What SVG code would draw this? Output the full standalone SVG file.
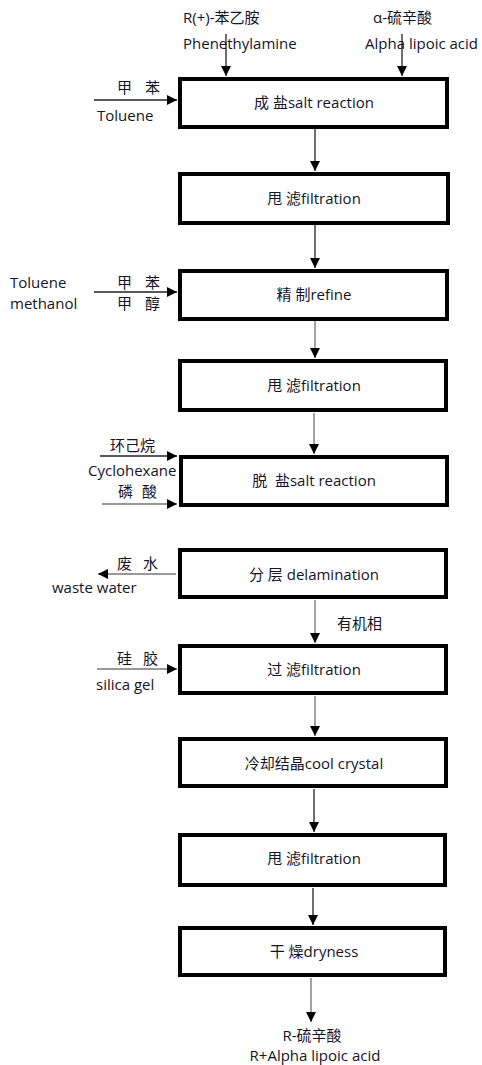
<svg xmlns="http://www.w3.org/2000/svg" width="482" height="1065" viewBox="0 0 482 1065">
<defs>
<marker id="ah" viewBox="0 0 10 10" refX="10" refY="5" markerWidth="10" markerHeight="10" markerUnits="userSpaceOnUse" orient="auto">
<path d="M0,0 L10,5 L0,10 z" fill="#000"/>
</marker>
</defs>
<style>
.box{fill:#fff;stroke:#000;stroke-width:4}
.t{font-family:"Open Sans","Noto Sans CJK SC",sans-serif;font-size:15px;fill:#14142a}
.c{text-anchor:middle}
.dk{stroke:#222;stroke-width:1.3;fill:none}
.gy{stroke:#999;stroke-width:1.8;fill:none}
</style>
<rect width="482" height="1065" fill="#fff"/>
<g id="connectors">
<line class="dk" x1="226" y1="34" x2="226" y2="76" marker-end="url(#ah)"/>
<line class="dk" x1="402" y1="34" x2="402" y2="76" marker-end="url(#ah)"/>
<line class="dk" x1="94" y1="100" x2="177" y2="100" marker-end="url(#ah)"/>
<line class="dk" x1="315" y1="129" x2="315" y2="171" marker-end="url(#ah)"/>
<line class="dk" x1="315" y1="225" x2="315" y2="268" marker-end="url(#ah)"/>
<line class="dk" x1="94" y1="292" x2="177" y2="292" marker-end="url(#ah)"/>
<line class="gy" x1="315" y1="321" x2="315" y2="358" marker-end="url(#ah)"/>
<line class="gy" x1="314" y1="413" x2="314" y2="454" marker-end="url(#ah)"/>
<line class="dk" x1="100" y1="456" x2="177" y2="456" marker-end="url(#ah)"/>
<line class="gy" x1="102" y1="504" x2="177" y2="504" marker-end="url(#ah)"/>
<line class="gy" x1="176" y1="574" x2="98" y2="574" marker-end="url(#ah)"/>
<line class="gy" x1="315" y1="600" x2="315" y2="643" marker-end="url(#ah)"/>
<line class="gy" x1="97" y1="669" x2="177" y2="669" marker-end="url(#ah)"/>
<line class="gy" x1="315" y1="696" x2="315" y2="736" marker-end="url(#ah)"/>
<line class="dk" x1="314" y1="789" x2="314" y2="832" marker-end="url(#ah)"/>
<line class="dk" x1="313" y1="888" x2="313" y2="925" marker-end="url(#ah)"/>
<line class="gy" x1="311" y1="978" x2="311" y2="1022" marker-end="url(#ah)"/>
</g>
<g id="inputs">
<text class="t" x="183" y="23">R(+)-苯乙胺</text>
<text class="t" x="183" y="49">Phenethylamine</text>
<text class="t" x="373" y="23">α-硫辛酸</text>
<text class="t" x="365" y="49">Alpha lipoic acid</text>
<text class="t" x="117" y="93">甲<tspan x="145">苯</tspan></text>
<text class="t" x="97" y="121">Toluene</text>
<text class="t" x="10" y="288">Toluene</text>
<text class="t" x="10" y="309">methanol</text>
<text class="t" x="117" y="288">甲<tspan x="145">苯</tspan></text>
<text class="t" x="117" y="309">甲<tspan x="145">醇</tspan></text>
<text class="t" x="110" y="451">环己烷</text>
<text class="t" x="88" y="476">Cyclohexane</text>
<text class="t" x="118" y="497">磷<tspan x="142">酸</tspan></text>
<text class="t" x="117" y="569">废<tspan x="143">水</tspan></text>
<text class="t" x="52" y="593">waste water</text>
<text class="t" x="337" y="629">有机相</text>
<text class="t" x="117" y="664">硅<tspan x="143">胶</tspan></text>
<text class="t" x="96" y="690">silica gel</text>
<text class="t c" x="312" y="1041">R-硫辛酸</text>
<text class="t c" x="315" y="1061">R+Alpha lipoic acid</text>
</g>
<g id="n1"><rect class="box" x="180" y="79" width="267" height="48"/><text class="t c" x="314" y="108">成 盐salt reaction</text></g>
<g id="n2"><rect class="box" x="180" y="174" width="268" height="49"/><text class="t c" x="314" y="204">甩 滤filtration</text></g>
<g id="n3"><rect class="box" x="180" y="271" width="267" height="48"/><text class="t c" x="314" y="300">精 制refine</text></g>
<g id="n4"><rect class="box" x="180" y="361" width="266" height="49"/><text class="t c" x="314" y="391">甩 滤filtration</text></g>
<g id="n5"><rect class="box" x="181" y="457" width="266" height="48"/><text class="t c" x="314" y="486" xml:space="preserve">脱  盐salt reaction</text></g>
<g id="n6"><rect class="box" x="180" y="550" width="266" height="47"/><text class="t c" x="314" y="580">分 层 delamination</text></g>
<g id="n7"><rect class="box" x="180" y="646" width="266" height="47"/><text class="t c" x="314" y="675">过 滤filtration</text></g>
<g id="n8"><rect class="box" x="180" y="739" width="266" height="47"/><text class="t c" x="314" y="769">冷却结晶cool crystal</text></g>
<g id="n9"><rect class="box" x="180" y="835" width="265" height="50"/><text class="t c" x="314" y="864">甩 滤filtration</text></g>
<g id="n10"><rect class="box" x="180" y="928" width="265" height="47"/><text class="t c" x="314" y="957">干 燥dryness</text></g>
</svg>
